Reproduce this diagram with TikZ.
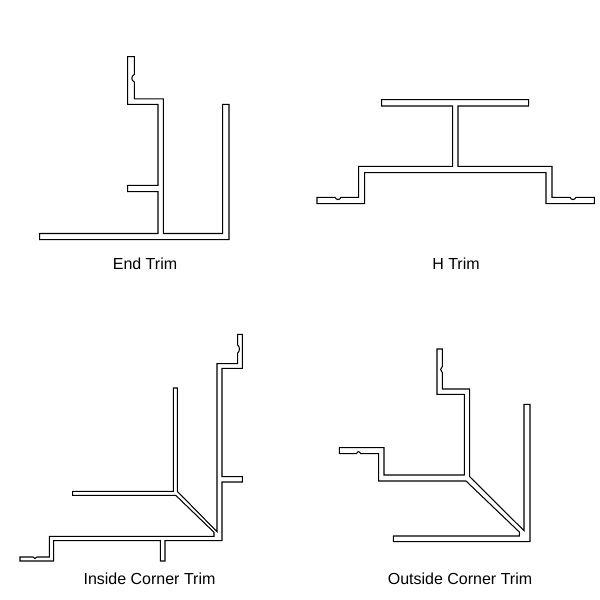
\documentclass[tikz,border=0pt]{standalone}
\usepackage{fontspec}
\setmainfont{Liberation Sans}
\tikzset{
  profile/.style={draw=black,line width=1.05pt,line join=miter,fill=white},
  caption/.style={font=\fontsize{16}{18}\selectfont,text=black,inner sep=0pt,anchor=center}
}
\begin{document}
\begin{tikzpicture}[x=1pt,y=-1pt]
\useasboundingbox (0,0) rectangle (600,600);
\fill[white] (0,0) rectangle (600,600);
% End Trim
\draw[profile] (127.7,56.7) -- (134.3,56.7) -- (134.3,74.5) .. controls (131,76) and (131,80.5) .. (134.3,82) -- (134.3,98.8) -- (163.3,98.8) -- (163.3,233.5) -- (222.7,233.5) -- (222.7,104.3) -- (229,104.3) -- (229,239.7) -- (39.7,239.7) -- (39.7,233.5) -- (158,233.5) -- (158,191.7) -- (127.7,191.7) -- (127.7,185.3) -- (158,185.3) -- (158,104.3) -- (127.7,104.3) -- cycle;
% H Trim
\draw[profile] (381.7,99.7) -- (528.7,99.7) -- (528.7,106) -- (458,106) -- (458,166.3) -- (552,166.3) -- (552,197.3) -- (570,197.3) .. controls (571.5,200.3) and (574.5,200.3) .. (576,197.3) -- (594.3,197.3) -- (594.3,203.7) -- (546,203.7) -- (546,172.7) -- (364.7,172.7) -- (364.7,203.7) -- (317,203.7) -- (317,197.3) -- (335,197.3) .. controls (336.5,200.3) and (339.5,200.3) .. (341,197.3) -- (358.7,197.3) -- (358.7,166.3) -- (452.7,166.3) -- (452.7,106) -- (381.7,106) -- cycle;
% Inside Corner Trim
\draw[profile] (237.7,334.3) -- (242.3,334.3) -- (242.3,368.3) -- (222,368.3) -- (222,476.7) -- (242.3,476.7) -- (242.3,482) -- (222,482) -- (222,540.7) -- (165,540.7) -- (165,561) -- (160.3,561) -- (160.3,540.7) -- (53.7,540.7) -- (53.7,561) -- (20,561) -- (20,557) -- (33,557) .. controls (34,559) and (36,559) .. (37,557) -- (49.3,557) -- (49.3,536.3) -- (214,536.3) -- (214,532.3) -- (175.7,495.3) -- (72.7,495.3) -- (72.7,491.3) -- (173.3,491.3) -- (173.3,388) -- (177.3,388) -- (177.3,491.3) -- (217,531.7) -- (217,363.7) -- (237.7,363.7) -- (237.7,353) .. controls (240,351) and (240,347) .. (237.7,345) -- cycle;
% Outside Corner Trim
\draw[profile] (437,349) -- (442.3,349) -- (442.3,366.5) .. controls (440,368) and (440,371) .. (442.3,372.5) -- (442.3,389) -- (469.7,389) -- (469.7,476.7) -- (524,530.7) -- (524,404.3) -- (530,404.3) -- (530,541.7) -- (393.3,541.7) -- (393.3,536) -- (519.3,536) -- (519.3,532) -- (466,481) -- (378.7,481) -- (378.7,453.7) -- (360.7,453.7) .. controls (359.5,451) and (357.5,451) .. (356.5,453.7) -- (339.3,453.7) -- (339.3,447.7) -- (384,447.7) -- (384,475) -- (464.3,475) -- (464.3,394.3) -- (437,394.3) -- cycle;
% Captions
\node[caption] (endtrim) at (145,263.7) {End Trim};
\node[caption] (htrim) at (456,263.7) {H Trim};
\node[caption] (insidetrim) at (149.5,578.5) {Inside Corner Trim};
\node[caption] (outsidetrim) at (460,578.5) {Outside Corner Trim};
\end{tikzpicture}
\end{document}
